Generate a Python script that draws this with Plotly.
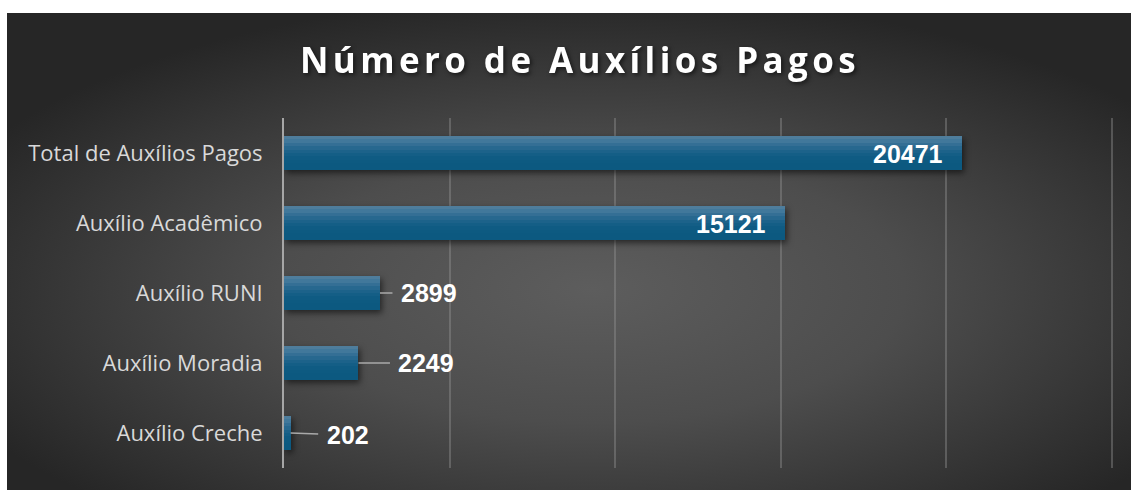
import base64
import plotly.graph_objects as go

# ---------------- data ----------------
categories = ["Total de Auxílios Pagos", "Auxílio Acadêmico", "Auxílio RUNI",
              "Auxílio Moradia", "Auxílio Creche"]
values = [20471, 15121, 2899, 2249, 202]
label_inside = [True, True, False, False, False]
x_tick_values = [0, 5000, 10000, 15000, 20000, 25000]
title_text = "Número de Auxílios Pagos"

# ---------------- styles ----------------
W, H = 1131, 490
L, R, T, B = 284, 16, 118, 22
x_max = 25100
bar_w = 0.486
strip_colors = ["#4e7d9c", "#41789b", "#346f95", "#27688f", "#1c628a", "#145e86",
                "#0f5b83", "#0d5a81", "#0c5980", "#0c5980"]
outside_offsets = {2: (49, 0), 3: (68, 0), 4: (57, 2)}

fig = go.Figure()

n = len(strip_colors)
sw = bar_w / n
for i, c in enumerate(strip_colors):
    fig.add_trace(go.Bar(
        y=categories, x=values, orientation="h",
        width=sw * (1.15 if i < n - 1 else 1.0),
        offset=-bar_w / 2 + i * sw,
        marker=dict(color=c, line=dict(width=0)),
        hoverinfo="skip", showlegend=False,
    ))

annotations = []
for i, (cat, v) in enumerate(zip(categories, values)):
    if label_inside[i]:
        annotations.append(dict(
            x=v, y=cat, xref="x", yref="y", text=str(v), showarrow=False,
            xanchor="right", yanchor="middle", xshift=-17, yshift=-1,
            font=dict(family="Liberation Sans, Arial", size=25, color="white", weight="bold"),
        ))
    else:
        ax, ay = outside_offsets[i]
        annotations.append(dict(
            x=v, y=cat, xref="x", yref="y", text=str(v), showarrow=True,
            arrowhead=0, arrowwidth=1.6, arrowcolor="#a9a9a9", ax=ax, ay=ay,
            borderpad=8, standoff=0,
            font=dict(family="Liberation Sans, Arial", size=25, color="white", weight="bold"),
        ))

# background radial gradient
svg = '''<svg xmlns="http://www.w3.org/2000/svg" width="1124" height="477" viewBox="0 0 1124 477" preserveAspectRatio="none">
<defs><radialGradient id="g" cx="0.52" cy="0.58" r="0.62" gradientUnits="objectBoundingBox">
<stop offset="0" stop-color="#5d5d5d"/><stop offset="0.45" stop-color="#4d4d4d"/>
<stop offset="1" stop-color="#262626"/></radialGradient></defs>
<rect x="0" y="0" width="1124" height="477" fill="url(#g)"/></svg>'''
src = "data:image/svg+xml;base64," + base64.b64encode(svg.encode()).decode()
pw, ph = W - L - R, H - T - B
x0p = (7 - L) / pw
x1p = (W - L) / pw
y1p = (H - B - 13) / ph
y0p = (H - B - H) / ph

fig.update_layout(
    width=W, height=H,
    margin=dict(l=L, r=R, t=T, b=B, pad=0),
    paper_bgcolor="white", plot_bgcolor="rgba(0,0,0,0)",
    barmode="overlay", bargap=0,
    images=[dict(source=src, xref="paper", yref="paper", x=x0p, y=y1p,
                 sizex=x1p - x0p, sizey=y1p - y0p, xanchor="left", yanchor="top",
                 sizing="stretch", layer="below")],
    title=dict(text=title_text, x=580 / W, xanchor="center", xref="container",
               y=1 - 61 / H, yanchor="middle", yref="container",
               font=dict(family="Open Sans", size=35, color="white", weight="bold")),
    xaxis=dict(range=[0, x_max], tickvals=x_tick_values, showticklabels=False,
               showgrid=True, gridcolor="rgba(150,150,150,0.4)", gridwidth=1.5,
               zeroline=False, showline=False, fixedrange=True),
    yaxis=dict(autorange="reversed", showgrid=False, zeroline=False,
               showline=True, linecolor="#a6a6a6", linewidth=2,
               ticks="", ticklabelstandoff=15,
               tickfont=dict(family="Open Sans", size=22, color="#d9d9d9")),
    annotations=annotations,
)

post = """
document.body.style.margin = '0';
document.documentElement.style.margin = '0';
var gd = document.querySelector('.js-plotly-plot');
function sty(){
  var t = document.querySelector('.gtitle');
  if (t) { t.style.letterSpacing = '4.4px'; t.style.filter = 'drop-shadow(2px 2px 2px rgba(0,0,0,0.55))'; }
  document.querySelectorAll('.barlayer').forEach(function(b){ b.style.filter = 'drop-shadow(2px 3px 3px rgba(0,0,0,0.55))'; });
}
sty();
if (gd && gd.on) { gd.on('plotly_afterplot', sty); }
"""
fig.write_html("out.html", post_script=post, config={"displayModeBar": False})
